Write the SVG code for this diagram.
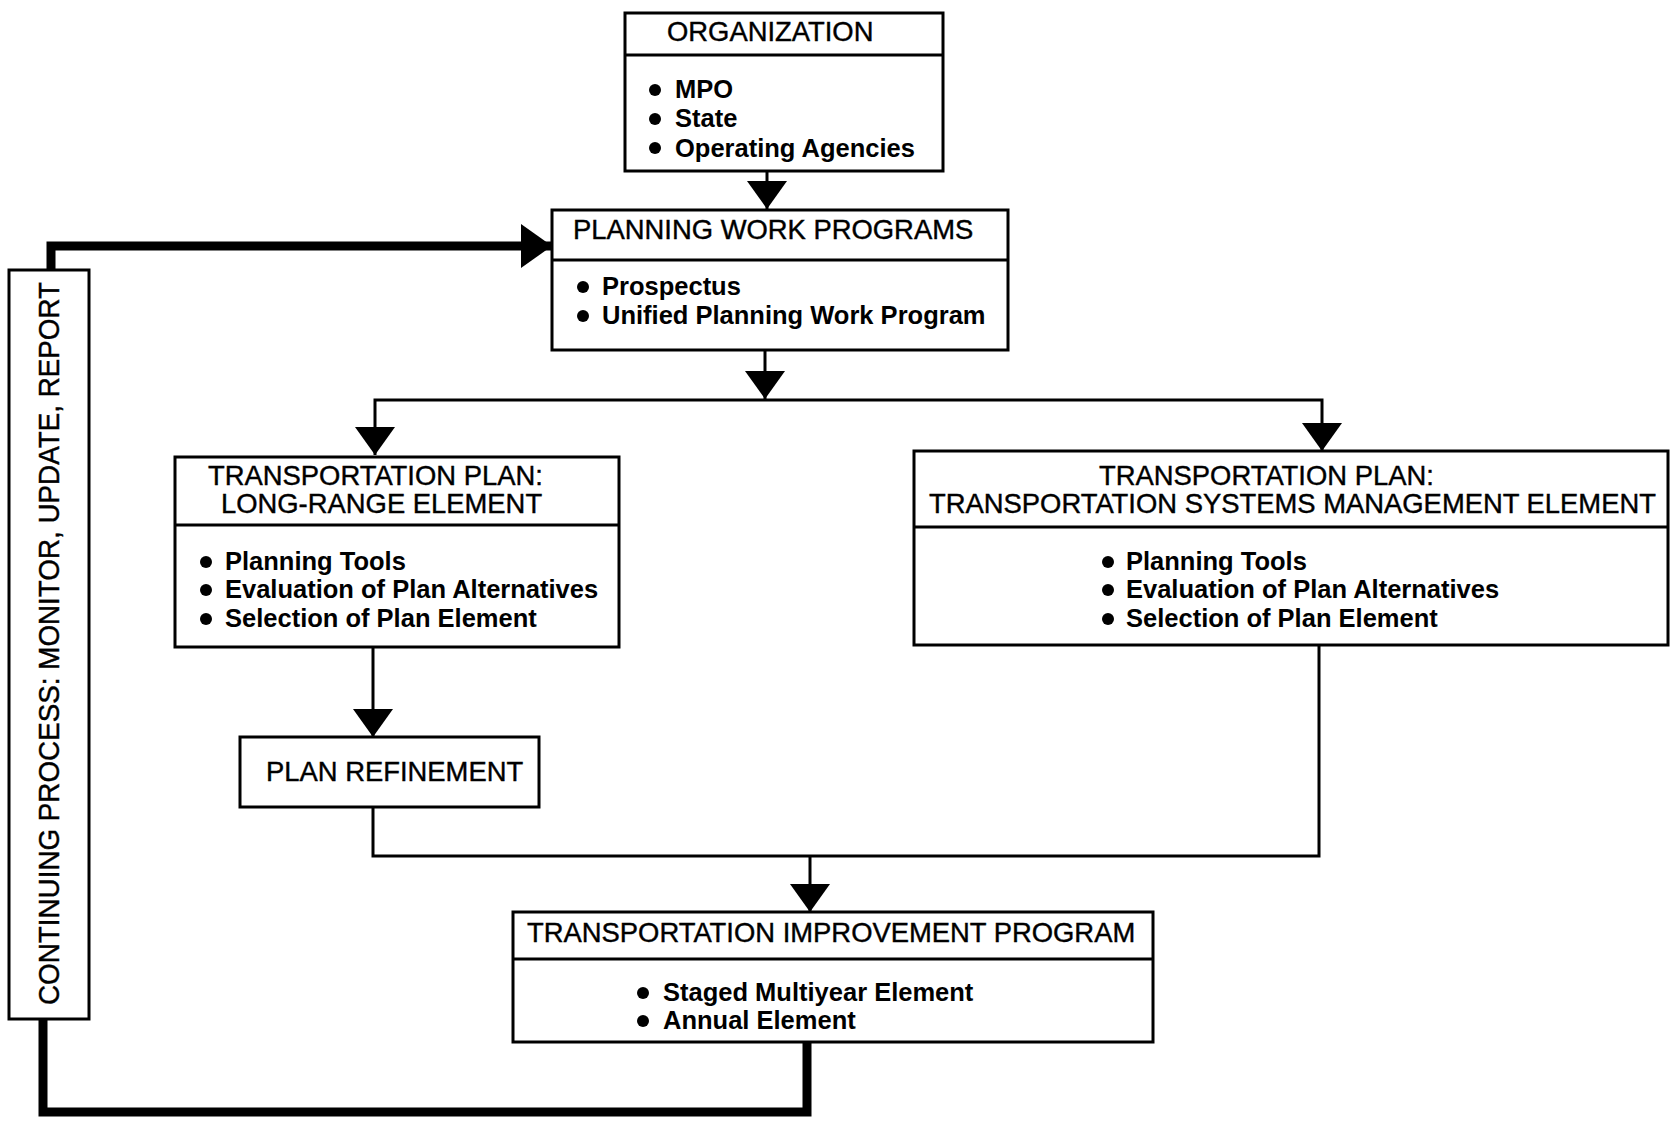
<svg xmlns="http://www.w3.org/2000/svg" width="1671" height="1126" viewBox="0 0 1671 1126">
<style>
.box{fill:#fff;stroke:#000;stroke-width:3}
.div{stroke:#000;stroke-width:3}
.t{font-family:"Liberation Sans",Arial,sans-serif;font-size:27.4px;fill:#000;stroke:#000;stroke-width:0.4}
.b{font-family:"Liberation Sans",Arial,sans-serif;font-size:25.5px;font-weight:bold;fill:#000}
.dot{fill:#000}
.ln{fill:none;stroke:#000;stroke-width:3}
.thick{fill:none;stroke:#000;stroke-width:9}
</style>
<defs>
<marker id="ah" markerUnits="userSpaceOnUse" markerWidth="28" markerHeight="40" refX="28" refY="20" orient="auto" viewBox="0 0 28 40">
<path d="M0,0 L28,20 L0,40 z" fill="#000"/>
</marker>
<marker id="ahBig" markerUnits="userSpaceOnUse" markerWidth="31" markerHeight="44" refX="31" refY="22" orient="auto" viewBox="0 0 31 44">
<path d="M0,0 L31,22 L0,44 z" fill="#000"/>
</marker>
</defs>
<rect width="1671" height="1126" fill="#fff"/>

<g id="connectors">
<path class="ln" d="M767,171 V209" marker-end="url(#ah)"/>
<path class="ln" d="M765,350 V399" marker-end="url(#ah)"/>
<path class="ln" d="M765,400 H375 V455" marker-end="url(#ah)"/>
<path class="ln" d="M765,400 H1322 V451" marker-end="url(#ah)"/>
<path class="ln" d="M373,647 V737" marker-end="url(#ah)"/>
<path class="ln" d="M373,807 V856 H1319 V646"/>
<path class="ln" d="M810,856 V912" marker-end="url(#ah)"/>
<path class="thick" d="M807,1042 V1112 H43 V1019"/>
<path class="thick" d="M51,270 V246 H552" marker-end="url(#ahBig)"/>
</g>

<g id="organization">
<rect class="box" x="625" y="13" width="318" height="158"/>
<line class="div" x1="625" y1="55" x2="943" y2="55"/>
<text class="t" x="667" y="41">ORGANIZATION</text>
<circle class="dot" cx="655" cy="90" r="6"/>
<circle class="dot" cx="655" cy="119" r="6"/>
<circle class="dot" cx="655" cy="148" r="6"/>
<text class="b" x="675" y="98">MPO</text>
<text class="b" x="675" y="127">State</text>
<text class="b" x="675" y="157">Operating Agencies</text>
</g>

<g id="planning-work-programs">
<rect class="box" x="552" y="210" width="456" height="140"/>
<line class="div" x1="552" y1="260" x2="1008" y2="260"/>
<text class="t" x="573" y="239">PLANNING WORK PROGRAMS</text>
<circle class="dot" cx="583" cy="287" r="6"/>
<circle class="dot" cx="583" cy="316" r="6"/>
<text class="b" x="602" y="295">Prospectus</text>
<text class="b" x="602" y="324">Unified Planning Work Program</text>
</g>

<g id="long-range-element">
<rect class="box" x="175" y="457" width="444" height="190"/>
<line class="div" x1="175" y1="525" x2="619" y2="525"/>
<text class="t" x="208" y="485">TRANSPORTATION PLAN:</text>
<text class="t" x="221" y="513">LONG-RANGE ELEMENT</text>
<circle class="dot" cx="206" cy="562" r="6"/>
<circle class="dot" cx="206" cy="590" r="6"/>
<circle class="dot" cx="206" cy="619" r="6"/>
<text class="b" x="225" y="570">Planning Tools</text>
<text class="b" x="225" y="598">Evaluation of Plan Alternatives</text>
<text class="b" x="225" y="627">Selection of Plan Element</text>
</g>

<g id="tsm-element">
<rect class="box" x="914" y="451" width="754" height="194"/>
<line class="div" x1="914" y1="527" x2="1668" y2="527"/>
<text class="t" x="1099" y="485">TRANSPORTATION PLAN:</text>
<text class="t" x="929" y="513">TRANSPORTATION SYSTEMS MANAGEMENT ELEMENT</text>
<circle class="dot" cx="1108" cy="562" r="6"/>
<circle class="dot" cx="1108" cy="590" r="6"/>
<circle class="dot" cx="1108" cy="619" r="6"/>
<text class="b" x="1126" y="570">Planning Tools</text>
<text class="b" x="1126" y="598">Evaluation of Plan Alternatives</text>
<text class="b" x="1126" y="627">Selection of Plan Element</text>
</g>

<g id="plan-refinement">
<rect class="box" x="240" y="737" width="299" height="70"/>
<text class="t" x="266" y="781">PLAN REFINEMENT</text>
</g>

<g id="tip">
<rect class="box" x="513" y="912" width="640" height="130"/>
<line class="div" x1="513" y1="959" x2="1153" y2="959"/>
<text class="t" x="527" y="942">TRANSPORTATION IMPROVEMENT PROGRAM</text>
<circle class="dot" cx="643" cy="993" r="6"/>
<circle class="dot" cx="643" cy="1021" r="6"/>
<text class="b" x="663" y="1001">Staged Multiyear Element</text>
<text class="b" x="663" y="1029">Annual Element</text>
</g>

<g id="continuing-process">
<rect class="box" x="9" y="270" width="80" height="749"/>
<text class="t" transform="translate(59,1005) rotate(-90)" x="0" y="0" style="font-size:29px" textLength="723" lengthAdjust="spacingAndGlyphs">CONTINUING PROCESS:  MONITOR, UPDATE, REPORT</text>
</g>
</svg>
